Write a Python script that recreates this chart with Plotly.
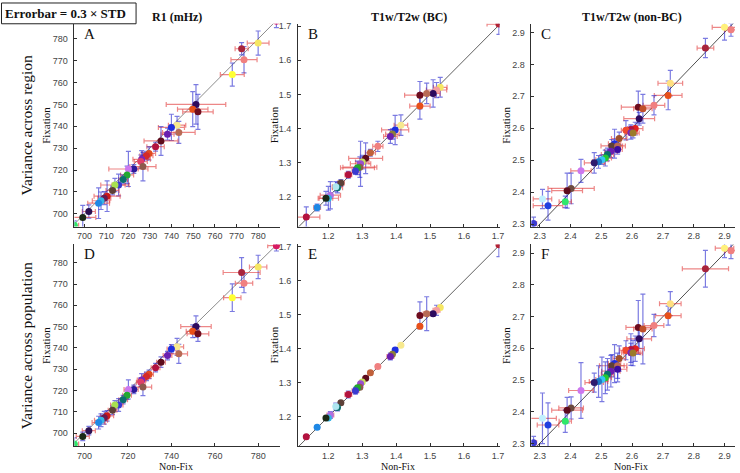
import plotly.graph_objects as go

# ---------------- data ----------------
# R1 (mHz): Non-Fix vs Fixation means, one entry per region
r1_nonfix = [788.3, 779.9, 772.3, 773.4, 768.0, 751.3, 749.8, 752.2, 742.6, 740.0, 743.4, 738.2,
             735.2, 732.7, 729.7, 728.5, 726.3, 725.9, 726.9, 722.7, 720.2, 719.6, 717.8, 715.7,
             714.0, 712.9, 710.4, 709.1, 707.6, 706.5, 702.0, 699.2, 695.3]
r1_fix = [788.0, 778.0, 775.4, 770.4, 763.6, 750.0, 747.8, 746.6, 740.5, 739.5, 737.2, 736.4,
          733.3, 730.7, 727.6, 726.6, 724.9, 723.9, 721.6, 720.5, 720.5, 717.8, 715.7, 713.2,
          713.2, 710.7, 708.1, 707.2, 706.0, 704.9, 701.1, 698.4, 694.8]
r1_region_ex = [3, 5, 3, 6, 5.5, 13.7, 7, 7, 4, 6, 7.5, 3, 7.8, 4, 3, 3, 4, 3, 6, 2, 9, 3, 2, 3,
                6.5, 3, 6, 3, 4, 5, 3, 6, 2]
r1_region_ey = [3, 5.5, 2.8, 6, 5.3, 9, 8, 8, 4, 6, 5, 2.7, 6.6, 2, 3, 2, 4, 3, 6.5, 2, 8, 4, 2, 5,
                3, 2, 7, 3, 4, 7, 3, 5.5, 2]
r1_pop_ex = [4, 4, 8.5, 4, 4, 7, 3, 5, 3, 2, 4, 2, 2, 2, 2, 2, 2, 2, 4, 2, 2, 2, 2, 2,
             2, 2, 3, 2, 3, 3, 3, 3, 2]
r1_pop_ey = [2.5, 5.5, 7, 4.5, 6.5, 5, 3, 3.5, 4, 2, 4.5, 2, 2.5, 2, 2, 2, 3, 2, 4, 2, 4.5, 2, 2, 3,
             2, 2, 2.5, 3, 3, 3, 2, 2, 3]
r1_colors = ['#d81b60', '#f5e663', '#a8243c', '#f08080', '#ffff33', '#2d0a5e', '#e8501a', '#6e0d1e',
             '#f7e98e', '#1f2fe0', '#b86a55', '#6a1fb0', '#5e0b1c', '#b3123f', '#e04a1f', '#d42a2a',
             '#7d26b5', '#e0406a', '#8e5a4d', '#2b1a9a', '#cc77ee', '#22a832', '#0b6e6e', '#3a3ad0',
             '#a8e050', '#5d4037', '#cc1a1a', '#6b1a4f', '#33b5e5', '#1e88e5', '#2a1050', '#1b2a17',
             '#2ee86a']

# T1w/T2w (BC)
bc_nonfix = [1.703, 1.530, 1.519, 1.509, 1.490, 1.470, 1.470, 1.414, 1.397, 1.389, 1.383, 1.346,
             1.324, 1.310, 1.300, 1.295, 1.293, 1.286, 1.280, 1.259, 1.237, 1.227, 1.222, 1.206,
             1.200, 1.193, 1.167, 1.135]
bc_fix = [1.706, 1.521, 1.513, 1.503, 1.503, 1.498, 1.466, 1.410, 1.396, 1.384, 1.377, 1.348,
          1.329, 1.313, 1.302, 1.297, 1.287, 1.285, 1.276, 1.265, 1.241, 1.227, 1.230, 1.205,
          1.196, 1.196, 1.169, 1.141]
bc_region_ex = [0.035, 0.02, 0.03, 0.02, 0.02, 0.045, 0.03, 0.02, 0.04, 0.02, 0.02, 0.015,
                0.015, 0.05, 0.02, 0.03, 0.05, 0.05, 0.01, 0.01, 0.01, 0.015, 0.01, 0.03,
                0.03, 0.02, 0.01, 0.04]
bc_region_ey = [0.03, 0.029, 0.022, 0.04, 0.03, 0.04, 0.038, 0.03, 0.043, 0.015, 0.02, 0.015,
                0.01, 0.045, 0.02, 0.066, 0.03, 0.02, 0.01, 0.01, 0.01, 0.015, 0.015, 0.04,
                0.035, 0.02, 0.01, 0.03]
bc_pop_ex = [0.005, 0.005, 0.01, 0.005, 0.01, 0.005, 0.005, 0.003, 0.005, 0.005, 0.01, 0.003,
             0.005, 0.005, 0.005, 0.005, 0.005, 0.005, 0.01, 0.01, 0.005, 0.005, 0.005, 0.01,
             0.005, 0.005, 0.005, 0.005]
bc_pop_ey = [0.035, 0.005, 0.015, 0.005, 0.05, 0.04, 0.005, 0.003, 0.005, 0.005, 0.01, 0.003,
             0.005, 0.005, 0.005, 0.005, 0.005, 0.005, 0.01, 0.01, 0.005, 0.01, 0.01, 0.01,
             0.005, 0.005, 0.005, 0.005]
bc_colors = ['#b22234', '#f5e663', '#f4a0a0', '#2d0a5e', '#b86a55', '#6e0d1e', '#e8501a', '#f7e98e',
             '#1f2fe0', '#8b7d3a', '#6a1fb0', '#f08080', '#c0603a', '#5e0b1c', '#c8e060', '#9a4dd0',
             '#8e5a4d', '#22a832', '#3a3ad0', '#b3123f', '#5d4037', '#0b6e6e', '#aee6f0', '#b070e0',
             '#33b5e5', '#1b2a17', '#1e88e5', '#b3123f']

# T1w/T2w (non-BC)
nbc_nonfix = [2.900, 2.921, 2.838, 2.724, 2.717, 2.671, 2.620, 2.635, 2.623, 2.610, 2.596, 2.580,
              2.596, 2.603, 2.558, 2.543, 2.534, 2.553, 2.553, 2.531, 2.520, 2.513, 2.502, 2.491,
              2.477, 2.434, 2.402, 2.389, 2.383, 2.309, 2.327, 2.280]
nbc_fix = [2.916, 2.908, 2.851, 2.741, 2.703, 2.672, 2.666, 2.661, 2.630, 2.599, 2.596, 2.594,
           2.586, 2.585, 2.568, 2.552, 2.545, 2.545, 2.534, 2.528, 2.518, 2.507, 2.502, 2.495,
           2.492, 2.467, 2.412, 2.405, 2.370, 2.379, 2.358, 2.302]
nbc_region_ex = [0.04, 0.02, 0.027, 0.04, 0.045, 0.035, 0.055, 0.03, 0.05, 0.025, 0.02, 0.015,
                 0.02, 0.02, 0.025, 0.02, 0.035, 0.025, 0.015, 0.02, 0.02, 0.02, 0.02, 0.02,
                 0.032, 0.033, 0.075, 0.05, 0.02, 0.03, 0.048, 0.01]
nbc_region_ey = [0.04, 0.02, 0.03, 0.04, 0.045, 0.03, 0.05, 0.045, 0.02, 0.02, 0.015, 0.03,
                 0.02, 0.015, 0.02, 0.045, 0.02, 0.02, 0.015, 0.02, 0.02, 0.025, 0.015, 0.02,
                 0.032, 0.036, 0.048, 0.055, 0.018, 0.03, 0.045, 0.02]
nbc_pop_ex = [0.03, 0.02, 0.075, 0.035, 0.042, 0.032, 0.04, 0.03, 0.04, 0.03, 0.025, 0.02,
              0.03, 0.03, 0.02, 0.02, 0.04, 0.03, 0.03, 0.03, 0.02, 0.02, 0.02, 0.03,
              0.03, 0.04, 0.04, 0.05, 0.02, 0.045, 0.035, 0.01]
nbc_pop_ey = [0.03, 0.025, 0.058, 0.038, 0.03, 0.035, 0.085, 0.11, 0.03, 0.04, 0.05, 0.03,
              0.03, 0.04, 0.04, 0.06, 0.035, 0.04, 0.04, 0.05, 0.05, 0.05, 0.07, 0.05,
              0.03, 0.088, 0.035, 0.04, 0.035, 0.08, 0.07, 0.02]
nbc_colors = ['#fff07a', '#f08080', '#a8243c', '#ffe080', '#e8501a', '#f08080', '#6e0d1e', '#c0502a',
              '#2d0a5e', '#e02020', '#b3123f', '#f04a30', '#7d26b5', '#9a7a2a', '#a0522d', '#1f2fe0',
              '#5d4037', '#b86a55', '#3a0ca3', '#6a1fb0', '#0b6e6e', '#22c832', '#33c5f5', '#1e78c5',
              '#2d1a6e', '#cc77ee', '#6d4c41', '#5e0b1c', '#2ee86a', '#c0f0ff', '#2040e0', '#3a3ad0']

r1_ticks_region = [700, 710, 720, 730, 740, 750, 760, 770, 780]
r1_ticks_pop = [700, 720, 740, 760, 780]
r1_yticks = [700, 710, 720, 730, 740, 750, 760, 770, 780]
bc_ticks = [1.2, 1.3, 1.4, 1.5, 1.6, 1.7]
nbc_ticks = [2.3, 2.4, 2.5, 2.6, 2.7, 2.8, 2.9]

col_titles = ['R1 (mHz)', 'T1w/T2w (BC)', 'T1w/T2w (non-BC)']
row_titles = ['Variance across region', 'Variance across population']
panel_letters = ['A', 'B', 'C', 'D', 'E', 'F']

# ---------------- layout helpers ----------------
W, H = 740, 473
def px(x):
    return x / W
def py(y):
    return 1 - y / H

col_px = [(75, 282), (300, 503), (535, 740)]
row_px = [(22, 227), (245, 449)]

panels = [
    dict(x=r1_nonfix, y=r1_fix, ex=r1_region_ex, ey=r1_region_ey, c=r1_colors,
         xr=[695.4, 790], yr=[694.2, 786.8], xt=r1_ticks_region, yt=r1_yticks, lc='#8c8c8c'),
    dict(x=bc_nonfix, y=bc_fix, ex=bc_region_ex, ey=bc_region_ey, c=bc_colors,
         xr=[1.1105, 1.705], yr=[1.113, 1.707], xt=bc_ticks, yt=bc_ticks, lc='#606060'),
    dict(x=nbc_nonfix, y=nbc_fix, ex=nbc_region_ex, ey=nbc_region_ey, c=nbc_colors,
         xr=[2.273, 2.934], yr=[2.2925, 2.927], xt=nbc_ticks, yt=nbc_ticks, lc='#505050'),
    dict(x=r1_nonfix, y=r1_fix, ex=r1_pop_ex, ey=r1_pop_ey, c=r1_colors,
         xr=[695.4, 790], yr=[693.8, 788.6], xt=r1_ticks_pop, yt=r1_yticks, lc='#8c8c8c'),
    dict(x=bc_nonfix, y=bc_fix, ex=bc_pop_ex, ey=bc_pop_ey, c=bc_colors,
         xr=[1.1105, 1.705], yr=[1.113, 1.707], xt=bc_ticks, yt=bc_ticks, lc='#606060'),
    dict(x=nbc_nonfix, y=nbc_fix, ex=nbc_pop_ex, ey=nbc_pop_ey, c=nbc_colors,
         xr=[2.273, 2.934], yr=[2.291, 2.928], xt=nbc_ticks, yt=nbc_ticks, lc='#505050'),
]

fig = go.Figure()
tickfont = dict(family='Liberation Sans, Arial, sans-serif', size=9, color='#444444')
serif = 'Liberation Serif, Times New Roman, serif'
annotations = []

for i, p in enumerate(panels):
    k = i + 1
    sfx = '' if k == 1 else str(k)
    r, c = divmod(i, 3)
    xa, ya = 'x' + sfx, 'y' + sfx
    lo = min(p['xr'][0], p['yr'][0])
    hi = max(p['xr'][1], p['yr'][1])
    # identity line
    fig.add_trace(go.Scatter(x=[lo, hi], y=[lo, hi], mode='lines',
                             line=dict(color=p['lc'], width=1), xaxis=xa, yaxis=ya,
                             hoverinfo='skip', showlegend=False))
    fig.add_trace(go.Scatter(
        x=p['x'], y=p['y'], mode='markers', xaxis=xa, yaxis=ya, showlegend=False,
        marker=dict(color=p['c'], size=7, line=dict(width=0)),
        error_x=dict(type='data', array=p['ex'], color='rgba(225,55,55,0.6)', thickness=1.2, width=2.5),
        error_y=dict(type='data', array=p['ey'], color='rgba(35,35,205,0.6)', thickness=1.2, width=2.5),
    ))
    x0, x1 = col_px[c]
    y0, y1 = row_px[r]
    common = dict(showgrid=False, zeroline=False, showline=True, linecolor='#303030', linewidth=0.8,
                  ticks='inside', ticklen=3, tickcolor='#303030', tickfont=tickfont)
    fig.layout['xaxis' + sfx] = dict(domain=[px(x0), px(x1)], range=p['xr'], anchor=ya,
                                     tickmode='array', tickvals=p['xt'], ticklabelstandoff=1, **common)
    fig.layout['yaxis' + sfx] = dict(domain=[py(y1), py(y0)], range=p['yr'], anchor=xa,
                                     tickmode='array', tickvals=p['yt'], ticklabelstandoff=4, **common)
    # panel letter
    annotations.append(dict(text=panel_letters[i], x=px(x0 + 8), y=py(y0 + 10), xref='paper', yref='paper',
                            xanchor='left', yanchor='middle', showarrow=False,
                            font=dict(family=serif, size=15, color='#111')))
    # y title
    ylab_x = [47, 276, 510][c]
    annotations.append(dict(text='Fixation', x=px(ylab_x), y=py((y0 + y1) / 2), xref='paper', yref='paper',
                            textangle=-90, showarrow=False, xanchor='center', yanchor='middle',
                            font=dict(family=serif, size=11, color='#111')))
    if r == 1:
        annotations.append(dict(text='Non-Fix', x=px((x0 + x1) / 2 - (1 if c < 2 else 2)), y=py(469),
                                xref='paper', yref='paper', showarrow=False,
                                xanchor='center', yanchor='middle', borderpad=0,
                                font=dict(family=serif, size=10, color='#111')))

# column titles
for c, t in enumerate(col_titles):
    cx = [178, 412, 636][c]
    annotations.append(dict(text='<b>' + t + '</b>', x=px(cx), y=py(15), xref='paper', yref='paper',
                            showarrow=False, xanchor='center', yanchor='middle',
                            font=dict(family=serif, size=12, color='#111')))
# row titles
for r, t in enumerate(row_titles):
    cy = [124, 347][r]
    annotations.append(dict(text=t, x=px(27), y=py(cy), xref='paper', yref='paper', textangle=-90,
                            showarrow=False, xanchor='center', yanchor='middle',
                            font=dict(family=serif, size=15.5, color='#111')))
# errorbar box
annotations.append(dict(text='<b>Errorbar = 0.3 × STD</b>', x=px(66), y=py(12), xref='paper', yref='paper',
                        showarrow=False, xanchor='center', yanchor='middle',
                        font=dict(family=serif, size=13, color='#111')))

fig.update_layout(
    width=W, height=H, margin=dict(l=0, r=0, t=0, b=0),
    paper_bgcolor='white', plot_bgcolor='white',
    annotations=annotations,
    shapes=[dict(type='rect', xref='paper', yref='paper', x0=px(1.5), x1=px(137), y0=py(22), y1=py(1),
                 line=dict(color='#222', width=1))],
)

fig.write_html('out.html', config={'displayModeBar': False},
               post_script="document.body.style.margin='0';document.body.style.padding='0';"
                           "document.body.style.overflow='hidden';")
